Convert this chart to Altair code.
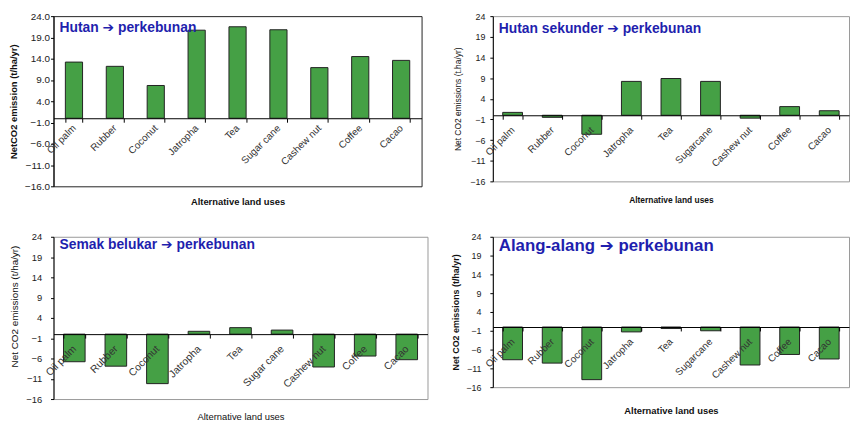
import altair as alt
import pandas as pd

# ---------------- data ----------------
labels_p1 = ["Oil palm", "Rubber", "Coconut", "Jatropha", "Tea", "Sugar cane", "Cashew nut", "Coffee", "Cacao"]
labels_p2 = ["Oil palm", "Rubber", "Coconut", "Jatropha", "Tea", "Sugarcane", "Cashew nut", "Coffee", "Cacao"]
labels_p3 = ["Oil palm", "Rubber", "Coconut", "Jatropha", "Tea", "Sugar cane", "Cashew nut", "Coffee", "Cacao"]
labels_p4 = ["Oil palm", "Rubber", "Coconut", "Jatropha", "Tea", "Sugarcane", "Cashew nut", "Coffee", "Cacao"]

hutan = [13.2, 12.2, 7.7, 20.7, 21.5, 20.8, 11.9, 14.5, 13.6]
hutan_sekunder = [0.7, -0.5, -4.6, 8.2, 8.9, 8.2, -0.7, 2.1, 1.1]
semak_belukar = [-6.8, -7.9, -12.2, 0.7, 1.6, 1.0, -8.1, -5.4, -6.3]
alang_alang = [-8.7, -9.6, -14.0, -1.3, -0.4, -1.0, -10.1, -7.3, -8.5]

y_ticks = [-16, -11, -6, -1, 4, 9, 14, 19, 24]

titles = ["Hutan ➔ perkebunan", "Hutan sekunder ➔ perkebunan",
          "Semak belukar ➔ perkebunan", "Alang-alang ➔ perkebunan"]
y_titles = ["NetCO2 emission (t/ha/yr)", "Net CO2 emissions (t.ha/yr)",
            "Net CO2 emissions (t/ha/yr)", "Net CO2 emissions (t/ha/yr)"]
x_title = "Alternative land uses"

FONT = "Liberation Sans"
TFONT = "Liberation Sans, DejaVu Sans"
BAR = "#45a045"
BLUE = "#1f1fae"


def panel(labels, values, title, ytitle, w, h, *, tfs, toff, fmt, pad_inner,
          view_stroke, ylab_fs, ylab_pad, ytitle_fs, ytitle_w, ytitle_pad,
          xlab_fs, xlab_pad, xtitle_fs, xtitle_w, xtitle_y, ytitle_y=None):
    df = pd.DataFrame({"crop": labels, "value": values})
    off = -h * 16 / 40
    yaxis_kwargs = dict(
        values=y_ticks, format=fmt, title=ytitle, grid=False,
        domainColor="#000", tickColor="#000", tickSize=3,
        labelFontSize=ylab_fs, labelPadding=ylab_pad, labelColor="#222",
        labelFont=FONT, titleFont=FONT, titleFontSize=ytitle_fs,
        titleFontWeight=ytitle_w, titleColor="#111", titlePadding=ytitle_pad,
    )
    if ytitle_y is not None:
        yaxis_kwargs["titleY"] = ytitle_y
    return alt.Chart(
        df,
        title=alt.TitleParams(
            text=title, anchor="start", frame="group", orient="top",
            offset=toff, dx=6, fontSize=tfs, fontWeight="bold",
            color=BLUE, font=TFONT, baseline="alphabetic",
        ),
    ).mark_bar(color=BAR, stroke="#222", strokeWidth=1).encode(
        x=alt.X(
            "crop:N", sort=labels,
            scale=alt.Scale(paddingInner=pad_inner, paddingOuter=pad_inner / 2),
            axis=alt.Axis(
                title=x_title, orient="bottom", offset=off, grid=False,
                zindex=1,
                labelAngle=-45, labelAlign="right", labelBaseline="middle",
                labelPadding=xlab_pad, labelFontSize=xlab_fs, labelFont=FONT,
                labelColor="#333", labelOverlap=False, labelBound=False,
                labelLimit=200, tickBand="extent", tickSize=4,
                tickColor="#000", domainColor="#000",
                titleY=xtitle_y, titleBaseline="middle", titleFont=FONT,
                titleFontSize=xtitle_fs, titleFontWeight=xtitle_w,
                titleColor="#111",
            ),
        ),
        y=alt.Y(
            "value:Q",
            scale=alt.Scale(domain=[-16, 24], nice=False),
            axis=alt.Axis(**yaxis_kwargs),
        ),
    ).properties(width=w, height=h, view=alt.ViewBackground(stroke=view_stroke))


p1 = panel(labels_p1, hutan, titles[0], y_titles[0], 372, 172,
           tfs=14, toff=-35, fmt=".1f", pad_inner=0.58,
           view_stroke="#222", ylab_fs=10, ylab_pad=1, ytitle_fs=9.5,
           ytitle_w="bold", ytitle_pad=6, xlab_fs=10, xlab_pad=4,
           xtitle_fs=9.5, xtitle_w="bold", xtitle_y=84)
p2 = panel(labels_p2, hutan_sekunder, titles[1], y_titles[1], 360, 167,
           tfs=14, toff=-35, fmt="d", pad_inner=0.5,
           view_stroke="#999", ylab_fs=9, ylab_pad=5, ytitle_fs=8.5,
           ytitle_w="normal", ytitle_pad=7, xlab_fs=10, xlab_pad=9,
           xtitle_fs=8.5, xtitle_w="bold", xtitle_y=85)
p3 = panel(labels_p3, semak_belukar, titles[2], y_titles[2], 378, 164,
           tfs=14, toff=-31, fmt="d", pad_inner=0.48,
           view_stroke="#999", ylab_fs=9.5, ylab_pad=9, ytitle_fs=10,
           ytitle_w="normal", ytitle_pad=6, xlab_fs=10.5, xlab_pad=9,
           xtitle_fs=9.5, xtitle_w="normal", xtitle_y=83, ytitle_y=70)
p4 = panel(labels_p4, alang_alang, titles[3], y_titles[3], 360, 152,
           tfs=17, toff=-35, fmt="d", pad_inner=0.5,
           view_stroke="#999", ylab_fs=9, ylab_pad=9, ytitle_fs=9,
           ytitle_w="bold", ytitle_pad=5, xlab_fs=10, xlab_pad=9,
           xtitle_fs=9.5, xtitle_w="bold", xtitle_y=84)

chart = alt.concat(
    p1, p2, p3, p4, columns=2, bounds="flush",
    spacing={"row": 51, "column": 66},
).properties(
    padding={"left": 0, "top": 0, "right": 0, "bottom": 0},
    background="white",
).configure_view(strokeWidth=1)

chart.save("out.html", embed_options={"renderer": "svg", "actions": False})
